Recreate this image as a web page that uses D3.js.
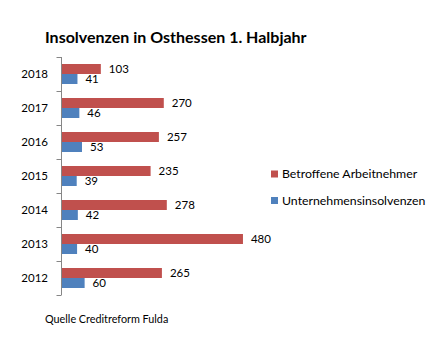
<!DOCTYPE html>
<html><head><meta charset="utf-8">
<script src="https://cdn.jsdelivr.net/npm/d3@7"></script>
<style>body{margin:0;background:#fff}svg{display:block}text{font-family:Lato,"Open Sans",sans-serif;fill:#000}</style>
</head><body>
<script>
const years = ["2018","2017","2016","2015","2014","2013","2012"];
const seriesNames = ["Betroffene Arbeitnehmer","Unternehmensinsolvenzen"];
const arbeitnehmer = [103,270,257,235,278,480,265];
const unternehmen = [41,46,53,39,42,40,60];
const colors = ["#C0504D","#4F81BD"];
const title = "Insolvenzen in Osthessen 1. Halbjahr";
const source = "Quelle Creditreform Fulda";

const W=441,H=339;
const svg=d3.select("body").append("svg").attr("width",W).attr("height",H);
const y=d3.scaleBand().domain(years).range([57,295]);
const yi=d3.scaleBand().domain(seriesNames).range([0,y.bandwidth()]).paddingOuter(0.7);
const x=d3.scaleLinear().domain([0,500]).range([62,250.5]);
const series=[arbeitnehmer,unternehmen];

svg.append("text").attr("x",45).attr("y",43).attr("font-size",16).attr("font-weight","bold").text(title);

// axis
const ax=svg.append("g").attr("transform","translate(61.5,0)");
ax.append("line").attr("y1",57).attr("y2",295).attr("stroke","#868686");
const bounds=years.map(d=>y(d)).concat([y.range()[1]]);
ax.selectAll("line.t").data(bounds).join("line").attr("class","t")
  .attr("x1",-5).attr("x2",0).attr("y1",d=>Math.round(d)+0.5).attr("y2",d=>Math.round(d)+0.5).attr("stroke","#868686");
svg.selectAll("text.yl").data(years).join("text").attr("class","yl")
  .attr("x",48).attr("y",d=>y(d)+y.bandwidth()/2).attr("dy","0.35em").attr("text-anchor","end").attr("font-size",11.5).text(d=>d);

series.forEach((vals,si)=>{
  const g=svg.append("g");
  g.selectAll("rect").data(vals).join("rect")
    .attr("x",x(0)).attr("y",(d,i)=>y(years[i])+yi(seriesNames[si]))
    .attr("width",d=>x(d)-x(0)).attr("height",yi.bandwidth()).attr("fill",colors[si]);
  g.selectAll("text").data(vals).join("text")
    .attr("x",d=>x(d)+8).attr("y",(d,i)=>y(years[i])+yi(seriesNames[si])+yi.bandwidth()/2)
    .attr("dy","0.35em").attr("font-size",11.5).text(d=>d);
});

const lg=svg.append("g");
seriesNames.forEach((n,i)=>{
  const yy=174+i*26.5;
  lg.append("rect").attr("x",271).attr("y",yy-3.5).attr("width",7).attr("height",7).attr("fill",colors[i]);
  lg.append("text").attr("x",282).attr("y",yy).attr("dy","0.35em").attr("font-size",12.3).text(n);
});

svg.append("text").attr("x",45).attr("y",319).attr("dy","0.35em").attr("font-size",10.8).text(source);
</script>
</body></html>
